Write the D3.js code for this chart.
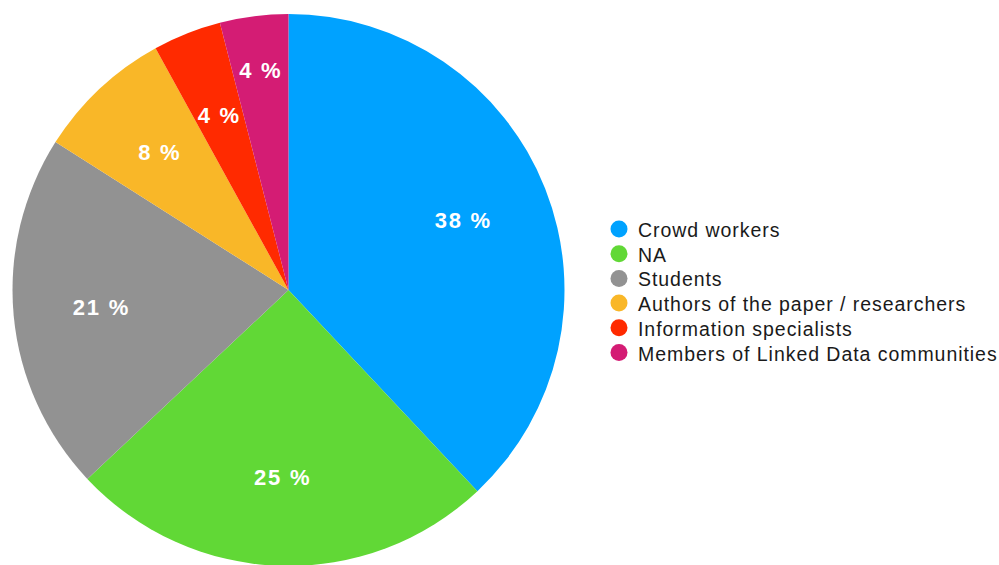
<!DOCTYPE html>
<html>
<head>
<meta charset="utf-8">
<script src="https://cdn.jsdelivr.net/npm/d3@7"></script>
<style>
  html, body { margin: 0; padding: 0; background: #fff; }
  svg { display: block; }
</style>
</head>
<body>
<svg id="chart" width="999" height="565"></svg>
<script>
// Respondent groups and their share (percent)
const categories = [
  "Crowd workers",
  "NA",
  "Students",
  "Authors of the paper / researchers",
  "Information specialists",
  "Members of Linked Data communities"
];
const shares = [38, 25, 21, 8, 4, 4];
const colors = ["#00A2FF", "#61D836", "#929292", "#F9B728", "#FF2A00", "#D41C74"];

const svg = d3.select("#chart");
const cx = 288.5, cy = 290, radius = 276;

const pie = d3.pie().sort(null).value(d => d.value);
const data = categories.map((c, i) => ({ name: c, value: shares[i], color: colors[i] }));
const arcs = pie(data);

const arc = d3.arc().innerRadius(0).outerRadius(radius);

const g = svg.append("g").attr("transform", `translate(${cx},${cy})`);

g.selectAll("path.slice")
  .data(arcs)
  .join("path")
  .attr("class", "slice")
  .attr("d", arc)
  .attr("fill", d => d.data.color);

// Percentage labels; the thin last slice gets its label pushed outward
const labelArc = d3.arc().innerRadius(188).outerRadius(188);
const outerLabelArc = d3.arc().innerRadius(221).outerRadius(221);

g.selectAll("text.pct")
  .data(arcs)
  .join("text")
  .attr("class", "pct")
  .attr("transform", (d, i) => `translate(${(i === arcs.length - 1 ? outerLabelArc : labelArc).centroid(d)})`)
  .attr("text-anchor", "middle")
  .attr("dominant-baseline", "central")
  .attr("fill", "#fff")
  .attr("font-family", "Liberation Sans, Arial, sans-serif")
  .attr("font-size", 22)
  .attr("font-weight", 600)
  .attr("letter-spacing", 1.8)
  .text(d => `${d.data.value} %`);

// Legend
const legend = svg.append("g").attr("transform", "translate(619,229)");
const rowH = 24.7;
const rows = legend.selectAll("g.row")
  .data(data)
  .join("g")
  .attr("class", "row")
  .attr("transform", (d, i) => `translate(0,${i * rowH})`);

rows.append("circle")
  .attr("r", 8.5)
  .attr("fill", d => d.color);

rows.append("text")
  .attr("x", 19)
  .attr("y", 1)
  .attr("dominant-baseline", "central")
  .attr("fill", "#1a1a1a")
  .attr("font-family", "Liberation Sans, Arial, sans-serif")
  .attr("font-size", 19.5)
  .attr("letter-spacing", 0.95)
  .text(d => d.name);
</script>
</body>
</html>
